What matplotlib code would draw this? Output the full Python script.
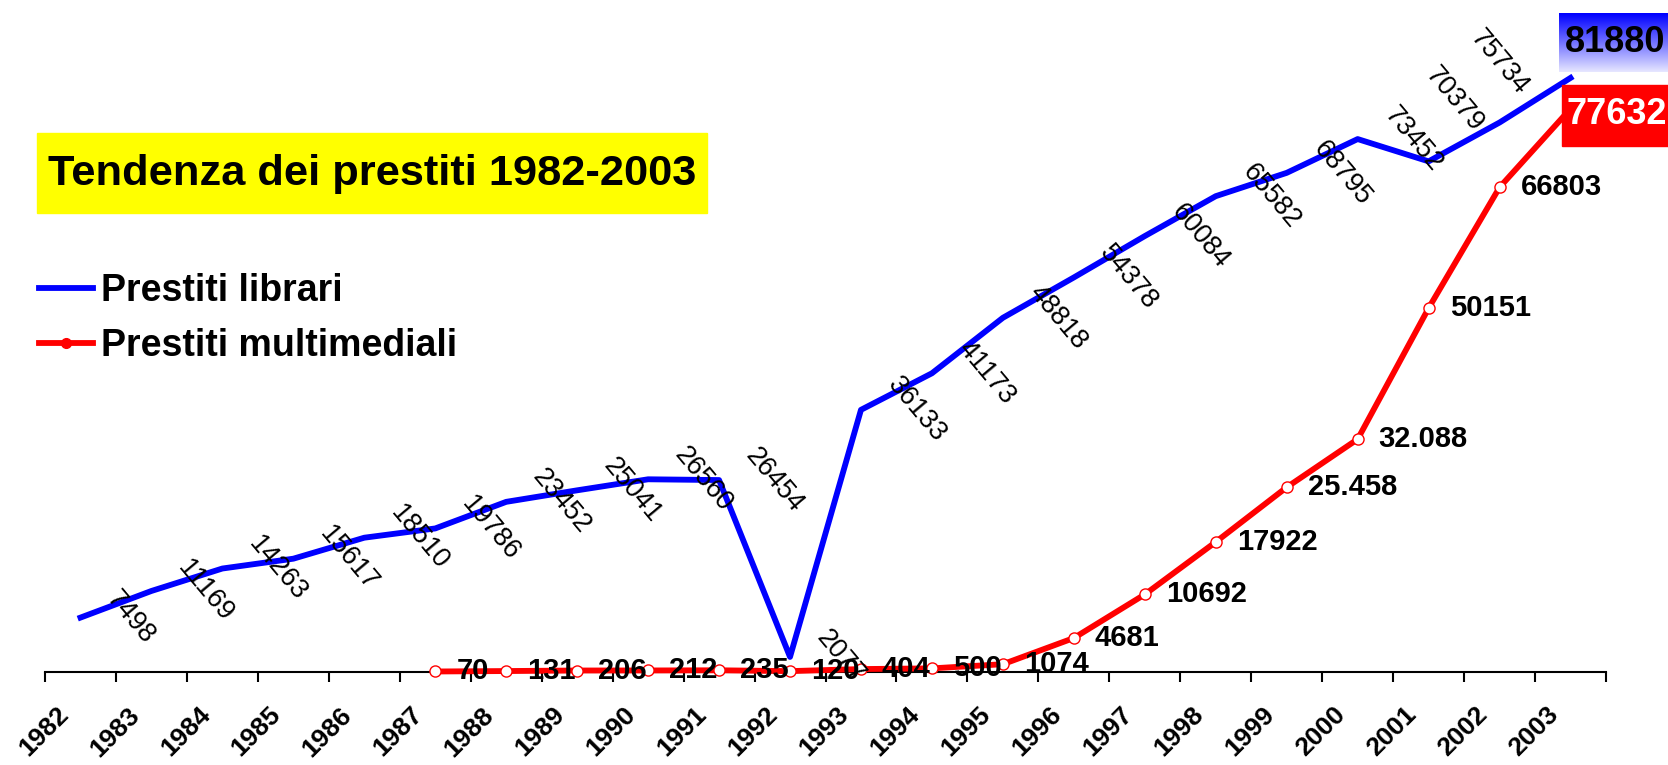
import numpy as np
import matplotlib
matplotlib.use('Agg')
import matplotlib.pyplot as plt
from matplotlib.lines import Line2D
from matplotlib.patches import Rectangle
from matplotlib.transforms import ScaledTranslation

plt.rcParams['font.family'] = ['Liberation Sans', 'DejaVu Sans']

# dati
anni = list(range(1982, 2004))
libri = [7498, 11169, 14263, 15617, 18510, 19786, 23452, 25041, 26560, 26454,
         2077, 36133, 41173, 48818, 54378, 60084, 65582, 68795, 73452, 70379,
         75734, 81880]
anni_multi = list(range(1987, 2004))
multi = [70, 131, 206, 212, 235, 120, 404, 500, 1074, 4681, 10692, 17922,
         25458, 32088, 50151, 66803, 77632]
etichette_multi = ['70', '131', '206', '212', '235', '120', '404', '500',
                   '1074', '4681', '10692', '17922', '25.458', '32.088',
                   '50151', '66803', '77632']

W, H = 1668, 765
PX = 0.72  # pt per pixel at dpi 100

fig = plt.figure(figsize=(W / 100, H / 100), dpi=100)
ax = fig.add_axes([45 / W, (H - 672) / H, (1606 - 45) / W, 653 / H])
ax.set_xlim(0, 22)
ax.set_ylim(0, 90000)

x_libri = np.array(anni) - 1982 + 0.5
x_multi = np.array(anni_multi) - 1982 + 0.5

ax.plot(x_libri, libri, color='#0000ff', lw=4.2, clip_on=False, zorder=2)
ax.plot(x_multi, multi, color='#ff0000', lw=4.2, marker='o', ms=8,
        mfc='white', mec='#ff0000', mew=1, clip_on=False, zorder=3)

# etichette serie blu (ruotate)
for i, (x, v) in enumerate(zip(x_libri[:-1], libri[:-1])):
    dx, dy = 21, 0
    if anni[i] == 2001:
        dx, dy = -9, 62
    elif anni[i] == 2002:
        dx, dy = -35, 60
    ax.annotate(str(v), xy=(x, v), xytext=(dx * PX, dy * PX),
                textcoords='offset points', ha='left', va='center',
                rotation=-50, fontsize=19.5, color='black', zorder=5)

# etichette serie rossa
for x, v, lab in zip(x_multi[:-1], multi[:-1], etichette_multi[:-1]):
    ax.annotate(lab, xy=(x, v), xytext=(21 * PX, 0),
                textcoords='offset points', ha='left', va='center',
                fontsize=21, fontweight='bold', color='black', zorder=5)

# asse x
for s in ['top', 'left', 'right']:
    ax.spines[s].set_visible(False)
ax.spines['bottom'].set_linewidth(1.5)
ax.set_yticks([])
ax.set_xticks(np.arange(23))
ax.set_xticklabels([str(a) for a in anni] + [''], rotation=45, ha='right',
                   va='top', fontsize=19, fontweight='bold')
ax.tick_params(axis='x', length=7, width=1.5, direction='out', pad=15)
for lab in ax.get_xticklabels():
    lab.set_transform(lab.get_transform() +
                      ScaledTranslation(28 / 100, 0, fig.dpi_scale_trans))

# titolo su sfondo giallo
fig.patches.append(Rectangle((37 / W, (H - 213) / H), 670 / W, 80 / H,
                             transform=fig.transFigure, color='#ffff00',
                             zorder=1))
fig.text(48 / W, (H - 174) / H, 'Tendenza dei prestiti 1982-2003',
         fontsize=31.2, fontweight='bold', va='center', ha='left', zorder=3)

# legenda
handles = [Line2D([], [], color='#0000ff', lw=4.2),
           Line2D([], [], color='#ff0000', lw=4.2, marker='o', ms=7,
                  mfc='#ff0000', mec='#ff0000')]
fig.legend(handles, ['Prestiti librari', 'Prestiti multimediali'],
           loc='upper left', bbox_to_anchor=(39 / W, (H - 273) / H),
           frameon=False, borderpad=0, borderaxespad=0,
           handlelength=1.45, handletextpad=0.2, labelspacing=0.5,
           prop={'size': 27, 'weight': 'bold'})

# valore finale blu su box sfumato
ax_g = fig.add_axes([1559 / W, (H - 72) / H, (W - 1559) / W, 59 / H],
                    zorder=4)
t = np.linspace(0, 1, 64)[:, None]
grad = np.dstack([0.9 * t, 0.9 * t, np.ones_like(t)])
ax_g.imshow(grad, aspect='auto', extent=[0, 1, 0, 1])
ax_g.axis('off')
fig.text(1615 / W, (H - 43) / H, str(libri[-1]), fontsize=26,
         fontweight='bold', ha='center', va='center', zorder=6)

# valore finale rosso su box rosso
fig.patches.append(Rectangle((1562 / W, (H - 146) / H), (W - 1562) / W,
                             61 / H, transform=fig.transFigure,
                             color='#ff0000', zorder=4))
fig.text(1617 / W, (H - 115) / H, etichette_multi[-1], fontsize=26,
         fontweight='bold', color='white', ha='center', va='center',
         zorder=6)

fig.savefig('out.png', dpi=100)
